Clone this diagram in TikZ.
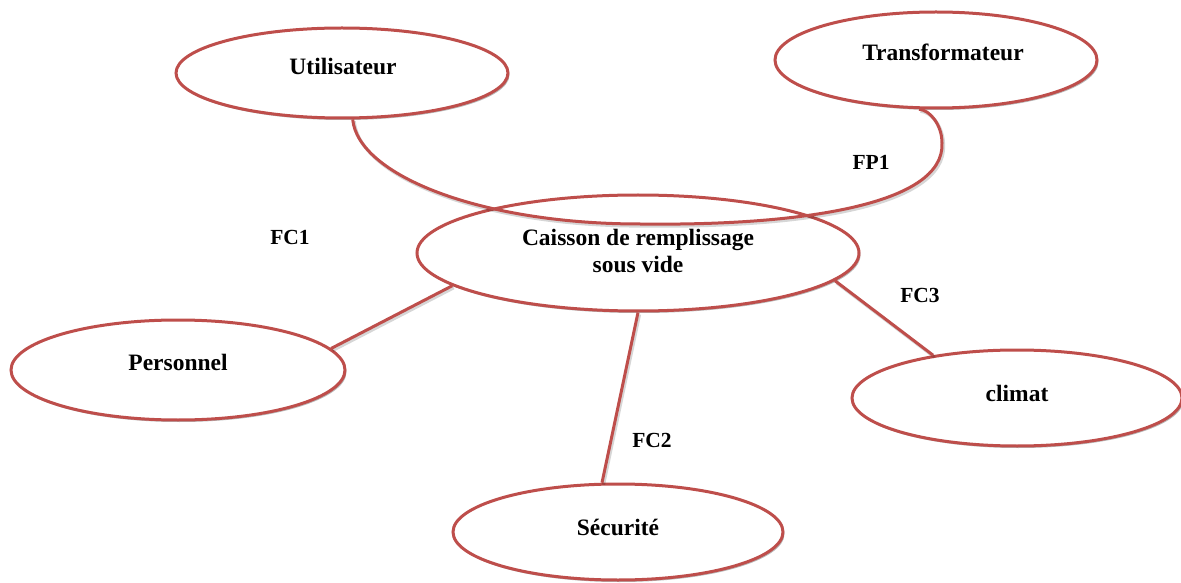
\documentclass[tikz,border=0pt]{standalone}
\usepackage{fontspec}
\setmainfont{Liberation Serif}
\usetikzlibrary{shapes.geometric,shadows}
\definecolor{accent}{RGB}{190,78,75}
\begin{document}
\begin{tikzpicture}[x=1pt,y=1pt,
  bubble/.style={ellipse, draw=accent, line width=3pt, fill=white, inner sep=0pt,
    drop shadow={shadow xshift=1.5pt, shadow yshift=-2pt, opacity=0.28, fill=black}},
  link/.style={draw=accent, line width=3pt,
    preaction={draw=black, opacity=0.16, line width=3.2pt,
      transform canvas={shift={(1.5pt,-2pt)}}}},
  word/.style={font=\bfseries\fontsize{23.5}{27}\selectfont, text height=16pt, text depth=0pt, inner sep=0pt},
  wordblock/.style={font=\bfseries\fontsize{23.5}{27}\selectfont, align=center, inner sep=0pt},
  tag/.style={font=\bfseries\fontsize{21.5}{26}\selectfont, text height=14.6pt, text depth=0pt, inner sep=0pt}]

\useasboundingbox (0,0) rectangle (1181,582);

% the six functions' actors
\node[bubble, minimum width=332pt, minimum height=90pt] (util)  at (342,509) {};
\node[bubble, minimum width=322pt, minimum height=96pt] (trans) at (936,522) {};
\node[bubble, minimum width=442pt, minimum height=116pt] (cais) at (638,329) {};
\node[bubble, minimum width=334pt, minimum height=100pt] (pers) at (178,212) {};
\node[bubble, minimum width=330pt, minimum height=96pt] (secu)  at (618,50) {};
\node[bubble, minimum width=330pt, minimum height=96pt] (clim)  at (1017,184) {};

% constraint functions
\draw[link] (pers.8) -- (cais.190);
\draw[link] (cais.south) -- (secu.108);
\draw[link] (cais.-8) -- (clim.153);

% main function: user to transformer through the box
\coordinate (fpbot) at (640,358);
\coordinate (fpright) at (942,439);
\draw[link] (util.-77) .. controls (358,407) and (480,358) .. (fpbot)
  .. controls (800,356) and (945,377) .. (fpright)
  .. controls (942,457) and (930,472) .. (trans.-109);

% texts
\node[word] (utiltext)  at (343,515) {Utilisateur};
\node[word] (transtext) at (943,529) {Transformateur};
\node[wordblock] (caistext) at (638,331) {Caisson de remplissage\\sous vide};
\node[word] (perstext)  at (178,220) {Personnel};
\node[word] (secutext)  at (618,55) {Sécurité};
\node[word] (climtext)  at (1017,189) {climat};

\node[tag] (fc1) at (290,345) {FC1};
\node[tag] (fp1) at (871,420) {FP1};
\node[tag] (fc3) at (920,287) {FC3};
\node[tag] (fc2) at (652,142) {FC2};
\end{tikzpicture}
\end{document}
